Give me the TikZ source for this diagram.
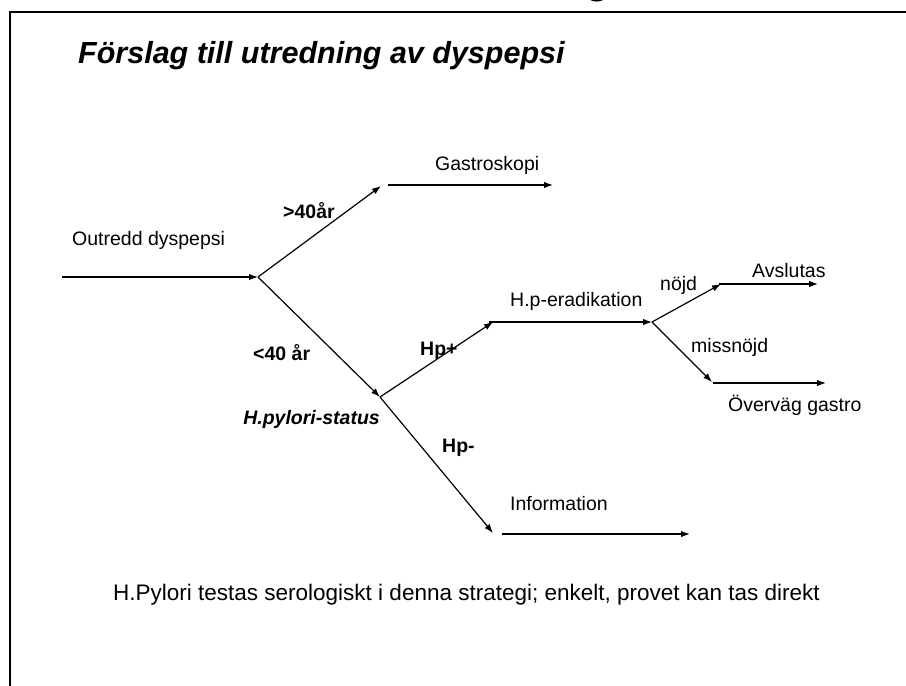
\documentclass[tikz,border=0pt]{standalone}
\usepackage{fontspec}
\setmainfont{Liberation Sans}
\usetikzlibrary{arrows.meta}
\tikzset{
  conn/.style={line width=1.2pt,-{Latex[length=9pt,width=6.5pt]}},
  lbl/.style={inner sep=0pt,anchor=base west,font=\fontsize{19.5}{22}\selectfont},
  blbl/.style={lbl,font=\fontsize{19.5}{22}\selectfont\bfseries},
}
\begin{document}
\begin{tikzpicture}[x=1pt,y=-1pt]
\useasboundingbox (0,0) rectangle (906,686);
\begin{scope}
\clip (0,0) rectangle (906,686);
\node[inner sep=0pt,anchor=base west,font=\fontsize{40}{44}\selectfont\bfseries] (cut) at (585,-6.5) {g};
\end{scope}
% frame
\draw[line width=2.4pt] (10,700) -- (10,12) -- (920,12);
% title
\node[inner sep=0pt,anchor=base west,font=\fontsize{30.5}{34}\selectfont\bfseries\itshape] (title) at (78,63) {Förslag till utredning av dyspepsi};
% coordinates
\coordinate (a0) at (62,277);
\coordinate (s1) at (258,277);
\coordinate (g0) at (381,186);
\coordinate (g1) at (388,185);
\coordinate (g2) at (553,185);
\coordinate (s2) at (380,397);
\coordinate (e0) at (493,322);
\coordinate (e1) at (489,322);
\coordinate (s3) at (652,322);
\coordinate (n0) at (721,284);
\coordinate (n1) at (719,284);
\coordinate (n2) at (818,284);
\coordinate (m0) at (712,382);
\coordinate (m1) at (713,383);
\coordinate (m2) at (826,383);
\coordinate (i0) at (493,533);
\coordinate (i1) at (502,534);
\coordinate (i2) at (690,534);
% connectors
\draw[conn] (a0) -- (s1);
\draw[conn] (s1) -- (g0);
\draw[conn] (g1) -- (g2);
\draw[conn] (s1) -- (s2);
\draw[conn] (s2) -- (e0);
\draw[conn] (e1) -- (s3);
\draw[conn] (s3) -- (n0);
\draw[conn] (n1) -- (n2);
\draw[conn] (s3) -- (m0);
\draw[conn] (m1) -- (m2);
\draw[conn] (s2) -- (i0);
\draw[conn] (i1) -- (i2);
% labels
\node[lbl] (outredd) at (72,245) {Outredd dyspepsi};
\node[blbl] (over40) at (283,218) {>40år};
\node[lbl] (gastro) at (435,170) {Gastroskopi};
\node[blbl] (under40) at (253,360) {<40 år};
\node[blbl,anchor=base east,font=\fontsize{19.5}{22}\selectfont\bfseries\itshape] (hpstatus) at (380,424) {H.pylori-status};
\node[blbl] (hpplus) at (420,355) {Hp+};
\node[lbl] (erad) at (510,306) {H.p-eradikation};
\node[lbl] (nojd) at (660,290) {nöjd};
\node[lbl] (avsl) at (752,277) {Avslutas};
\node[lbl] (missn) at (691,352) {missnöjd};
\node[lbl] (overv) at (728,411) {Överväg gastro};
\node[blbl] (hpminus) at (442,452) {Hp-};
\node[lbl] (info) at (510,510) {Information};
\node[inner sep=0pt,anchor=base west,font=\fontsize{22.5}{26}\selectfont] (note) at (113,600) {H.Pylori testas serologiskt i denna strategi; enkelt, provet kan tas direkt};
\end{tikzpicture}
\end{document}
